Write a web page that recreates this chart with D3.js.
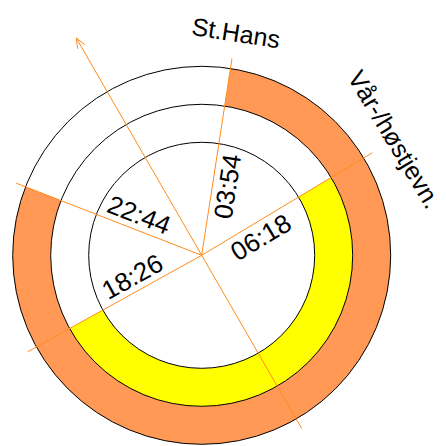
<!DOCTYPE html>
<html>
<head>
<meta charset="utf-8">
<script src="https://cdn.jsdelivr.net/npm/d3@7"></script>
<style>
html,body{margin:0;padding:0;background:#fff;}
svg{display:block;}
text{font-family:"Liberation Sans",Arial,sans-serif;fill:#000;}
</style>
</head>
<body>
<script>
// ---- data ----
const seasons = ["Vår-/høstjevn.", "St.Hans"];      // ring labels (middle, outer)
const sunrise = ["06:18", "03:54"];
const sunset  = ["18:26", "22:44"];
const ringColors = ["#FFFF00", "#FF9955"];
const ringRadii = [113, 151, 189];                    // inner, middle, outer circles
const axisAngle = 150;                               // direction (deg) the daylight arcs centre on

const W = 446, H = 446, cx = 201.7, cy = 255.3;
const svg = d3.select("body").append("svg").attr("width", W).attr("height", H);
const g = svg.append("g").attr("transform", `translate(${cx},${cy})`);

const toH = s => { const [h, m] = s.split(":").map(Number); return h + m / 60; };
const hourToDeg = d3.scaleLinear().domain([0, 24]).range([0, 360]);
const rad = d => d * Math.PI / 180;
const pt = (deg, r) => [Math.sin(rad(deg)) * r, -Math.cos(rad(deg)) * r];

const rings = seasons.map((s, i) => {
  const dur = toH(sunset[i]) - toH(sunrise[i]);
  const half = hourToDeg(dur) / 2;
  return { name: s, rise: sunrise[i], set: sunset[i], a0: axisAngle - half, a1: axisAngle + half,
           inner: ringRadii[i], outer: ringRadii[i + 1], color: ringColors[i] };
});

// daylight arcs
const arc = d3.arc();
g.selectAll("path.day").data(rings).join("path").attr("class", "day")
  .attr("d", d => arc({ innerRadius: d.inner, outerRadius: d.outer, startAngle: rad(d.a0), endAngle: rad(d.a1) }))
  .attr("fill", d => d.color).attr("stroke", "none");

// circles
g.selectAll("circle").data(ringRadii).join("circle")
  .attr("r", d => d).attr("fill", "none").attr("stroke", "#000").attr("stroke-width", 1);

const lineColor = "#FF8C1A";
// sunrise / sunset lines
const lines = [];
rings.forEach(d => { lines.push(d.a0); lines.push(d.a1); });
g.selectAll("line.t").data(lines).join("line").attr("class", "t")
  .attr("x1", 0).attr("y1", 0)
  .attr("x2", d => pt(d, 199)[0]).attr("y2", d => pt(d, 199)[1])
  .attr("stroke", lineColor).attr("stroke-width", 1);

// axis arrow
const aEnd = pt(axisAngle + 180, 251), aStart = pt(axisAngle, 200);
g.append("line").attr("x1", aStart[0]).attr("y1", aStart[1]).attr("x2", aEnd[0]).attr("y2", aEnd[1])
  .attr("stroke", lineColor).attr("stroke-width", 1);
const headL = pt(axisAngle + 180 + 180 - 22, 11), headR = pt(axisAngle + 180 + 180 + 22, 11);
g.append("path")
  .attr("d", `M${aEnd[0] + headL[0]},${aEnd[1] + headL[1]}L${aEnd[0]},${aEnd[1]}L${aEnd[0] + headR[0]},${aEnd[1] + headR[1]}`)
  .attr("fill", "none").attr("stroke", lineColor).attr("stroke-width", 1);

// time labels
const along = { "06:18": 60, "03:54": 72, "18:26": 71, "22:44": 73 };
const labels = [];
rings.forEach(d => {
  labels.push({ t: d.rise, a: d.a0, right: d.a0 < 180 });
  labels.push({ t: d.set, a: d.a1, right: d.a1 < 180 });
});
g.selectAll("text.time").data(labels).join("text").attr("class", "time")
  .attr("transform", d => {
    const p = pt(d.a, along[d.t]);
    const rot = d.right ? d.a - 90 : d.a - 270;
    return `translate(${p[0]},${p[1]}) rotate(${rot})`;
  })
  .attr("text-anchor", "middle")
  .attr("y", d => d.right ? 24 : -6)
  .attr("font-size", 26)
  .text(d => d.t);

// season labels
g.selectAll("text.season").data(rings).join("text").attr("class", "season")
  .attr("transform", d => { const p = pt(d.a0, 225); return `translate(${p[0]},${p[1]}) rotate(${d.a0})`; })
  .attr("text-anchor", "middle").attr("dy", "0.35em")
  .attr("font-size", 25)
  .text(d => d.name);
</script>
</body>
</html>
